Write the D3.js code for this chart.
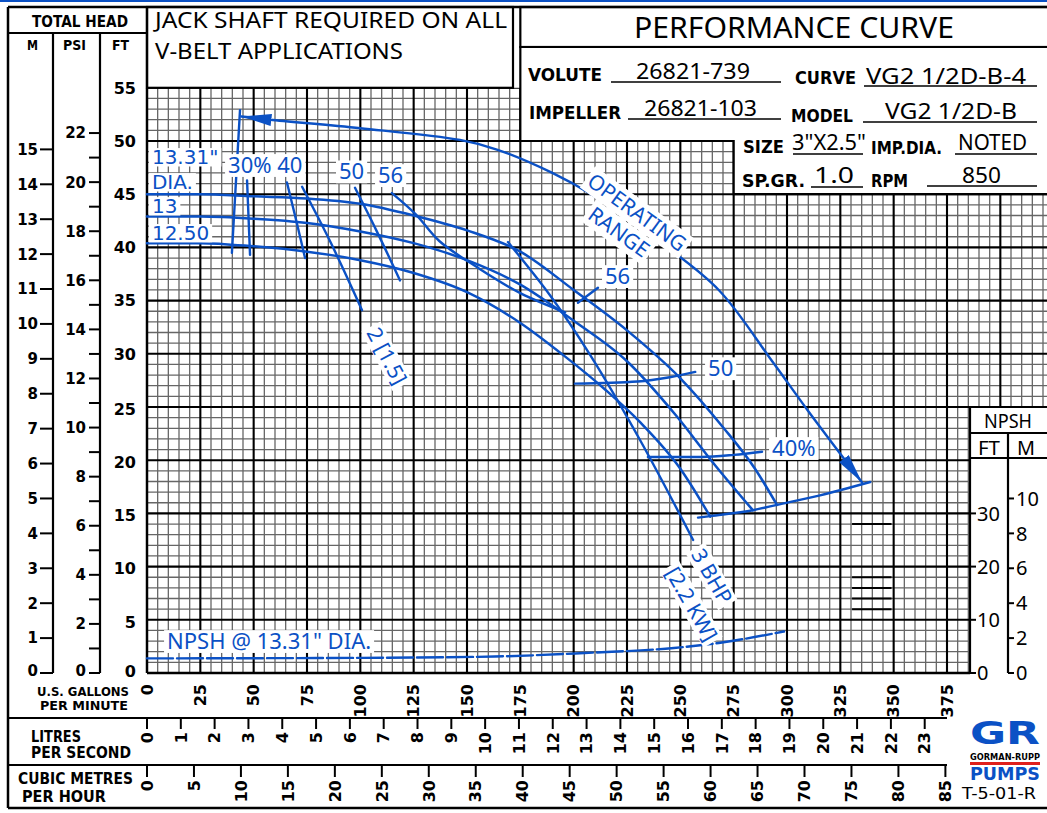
<!DOCTYPE html>
<html><head><meta charset="utf-8">
<script src="https://cdn.jsdelivr.net/npm/d3@7"></script>
<style>body{margin:0;background:#fff}svg{display:block}</style>
</head><body>
<svg id="c" width="1047" height="813"></svg>
<script>
// ---------------- DATA ----------------
const gpmTicks = d3.range(0, 376, 25);
const lpsTicks = d3.range(0, 24);
const cmhTicks = d3.range(0, 86, 5);
const ftTicks = d3.range(0, 56, 5);
const psiTicks = d3.range(0, 23);
const psiLabels = d3.range(0, 23, 2);
const mTicks = d3.range(0, 16);
const npshFtTicks = [0, 10, 20, 30];
const npshMTicks = [0, 2, 4, 6, 8, 10];

// head-capacity curves [gpm, ft]
const head1331 = [[0,45.0],[25,45.0],[50,44.8],[75,44.6],[100,44.1],[125,43.0],[150,41.6],[175,39.6],[200,36.0],[225,32.2],[250,27.7],[270,23.1],[285,19.2],[295.3,15.8]];
const head13   = [[0,42.9],[25,42.9],[50,42.7],[75,42.3],[100,41.5],[125,40.4],[150,38.8],[175,36.5],[200,33.1],[225,29.3],[248,24.2],[266,19.6],[284,15.3]];
const head1250 = [[0,40.4],[25,40.4],[50,40.1],[75,39.6],[100,38.8],[125,37.6],[150,35.8],[175,32.9],[195,29.9],[215,26.6],[231,23.6],[250,19.2],[264,14.7]];
// efficiency lines
const eff30  = [[46.9,46.3],[47.6,42.8],[48.3,39.3]];
const eff40L = [[65.6,46.1],[69.5,42.9],[74.1,39.0]];
const eff50L = [[97.5,45.6],[107.5,41.6],[118.6,36.9]];
const eff56L = [[114.8,45.1],[126,43.1],[137,40.6],[155,38.1],[175,35.7],[196,33.9]];
const eff56R = [[202,34.8],[211.4,36.2]];
const eff50R = [[200.6,27.2],[230,27.4],[245,27.8],[257,28.3]];
const eff40R = [[234.8,20.3],[260,20.3],[275,20.5],[288.3,20.8]];
// brake horsepower lines
const bhp2 = [[72.7,45.7],[86,40.5],[100.8,34.1]];
const bhp3 = [[169.2,40.5],[188.9,35.5],[207.7,29.9],[231.1,21.9],[256,12.5]];
// operating range
const opRange  = [[44.3,52.3],[57.7,52.0],[100,51.2],[146.7,50.1],[164,49.2],[190,47.0],[209,44.9],[240.5,40.5],[268,36.0],[293.4,29.2],[310,24.6],[335.2,17.9]];
const opLeft   = [[43.6,52.9],[41.7,46.2],[39.8,39.5]];
const opBottom = [[258.3,14.6],[264,14.75],[284,15.3],[295.3,15.8],[315.5,16.7],[339,17.95]];
// NPSH [gpm, ft NPSH]
const npsh = [[0,2.75],[100,2.85],[163,3.1],[205,3.76],[247,4.7],[268,5.65],[298.6,7.8]];
// heavier rules printed in grid [ft]
const darkRules = [14, 9, 8, 7, 6];

// ---------------- SCALES ----------------
const x  = d3.scaleLinear().domain([0, 375]).range([147, 947]);
const y  = d3.scaleLinear().domain([0, 55]).range([673, 87.8]);
const yPsi = d3.scaleLinear().domain([0, 55/2.3067]).range(y.range());
const yM   = d3.scaleLinear().domain([0, 55/3.2808]).range(y.range());
const yN   = d3.scaleLinear().domain([0, 110]).range(y.range());
const yNM  = d3.scaleLinear().domain([0, 110/3.2808]).range(y.range());
const xL = d3.scaleLinear().domain([0, 375/15.850]).range(x.range());
const xC = d3.scaleLinear().domain([0, 375/4.4029]).range(x.range());

const svg = d3.select('#c');
const BLUE = '#0b51c5';
const F  = "'Noto Sans','DejaVu Sans',sans-serif";
const FB = "'DejaVu Sans','Noto Sans',sans-serif";

function T(s, xx, yy, o = {}) {
  const t = svg.append('text').attr('x', xx).attr('y', yy).text(s)
    .attr('font-family', o.fam || F).attr('font-size', o.size || 16)
    .attr('font-weight', o.bold ? 'bold' : 'normal').attr('fill', o.fill || '#000')
    .attr('text-anchor', o.anchor || 'start');
  if (o.len) t.attr('textLength', o.len).attr('lengthAdjust', 'spacingAndGlyphs');
  if (o.rot !== undefined) t.attr('transform', `rotate(${o.rot},${xx},${yy})`);
  if (o.db) t.attr('dy', o.db);
  return t;
}
function Ln(x1, y1, x2, y2, w = 2.2, c = '#000') {
  svg.append('line').attr('x1', x1).attr('y1', y1).attr('x2', x2).attr('y2', y2)
    .attr('stroke', c).attr('stroke-width', w);
}

// top blue strip
svg.append('rect').attr('x', 0).attr('y', 0).attr('width', 1047).attr('height', 2).attr('fill', BLUE);

// ---------------- GRID ----------------
const gxEnd = x.invert(1047);
const grid = svg.append('g');
const vAll = d3.range(0, gxEnd, 5);
const hAll = d3.range(0, 56, 1);
vAll.filter(v => v % 25 !== 0).forEach(v => grid.append('line').attr('x1', x(v)).attr('x2', x(v)).attr('y1', y(55)).attr('y2', y(0)).attr('stroke', '#666').attr('stroke-width', 1.3));
hAll.filter(v => v % 5 !== 0).forEach(v => grid.append('line').attr('x1', x(0)).attr('x2', 1047).attr('y1', y(v)).attr('y2', y(v)).attr('stroke', '#666').attr('stroke-width', 1.3));
vAll.filter(v => v % 25 === 0).forEach(v => grid.append('line').attr('x1', x(v)).attr('x2', x(v)).attr('y1', y(55)).attr('y2', y(0)).attr('stroke', '#000').attr('stroke-width', 2.1));
hAll.filter(v => v % 5 === 0).forEach(v => grid.append('line').attr('x1', x(0)).attr('x2', 1047).attr('y1', y(v)).attr('y2', y(v)).attr('stroke', '#000').attr('stroke-width', 2.1));
darkRules.forEach(v => grid.append('line').attr('x1', x(330.5)).attr('x2', x(349)).attr('y1', y(v)).attr('y2', y(v)).attr('stroke', '#000').attr('stroke-width', 2));

// ---------------- BOXES ----------------
const box = (xx, yy, w, h, stroke = true) => svg.append('rect').attr('x', xx).attr('y', yy).attr('width', w).attr('height', h)
  .attr('fill', '#fff').attr('stroke', stroke ? '#000' : 'none').attr('stroke-width', 2.2);
box(513, 6, 8, y(55) - 6, false);
box(147, 7, 366, y(55) - 7);
box(x(175), 7, 1060 - x(175), 40);
svg.append('path').attr('d', `M${x(175)},47 L1060,47 L1060,${y(45)} L${x(275)},${y(45)} L${x(275)},${y(50)} L${x(175)},${y(50)} Z`)
  .attr('fill', '#fff').attr('stroke', '#000').attr('stroke-width', 2.2);
box(970, y(25), 90, y(0) - y(25) + 30, false);
Ln(970, y(25), 1047, y(25));
Ln(970, y(25), 970, y(0));
Ln(970, 433, 1047, 433);
Ln(970, 458, 1047, 458);
Ln(1008, 433, 1008, y(0));

// frame
Ln(8, 7, 1047, 7, 2.5);
Ln(8, 7, 8, 808, 2.5);
Ln(8, 808, 1047, 808, 2.5);
Ln(8, 33, 147, 33);
Ln(53, 33, 53, y(0));
Ln(100, 33, 100, y(0));
Ln(147, 7, 147, y(0), 2.4);
Ln(147, y(0), 970, y(0), 2.4);
Ln(8, 718, x(375), 718);
Ln(8, 765, x(375), 765);

// ---------------- CURVES ----------------
const cg = svg.append('g').attr('fill', 'none').attr('stroke', BLUE).attr('stroke-width', 2.4).attr('stroke-linecap', 'round');
const lineM = d3.line().x(d => x(d[0])).y(d => y(d[1])).curve(d3.curveMonotoneX);
const lineC = d3.line().x(d => x(d[0])).y(d => y(d[1])).curve(d3.curveCatmullRom);
const lineN = d3.line().x(d => x(d[0])).y(d => yN(d[1])).curve(d3.curveMonotoneX);

const defs = svg.append('defs');
defs.append('marker').attr('id', 'arr').attr('viewBox', '0 0 30 12').attr('refX', 30).attr('refY', 6)
  .attr('markerWidth', 30).attr('markerHeight', 12).attr('markerUnits', 'userSpaceOnUse').attr('orient', 'auto-start-reverse')
  .append('path').attr('d', 'M0,0 L30,6 L0,12 Z').attr('fill', BLUE);

[eff30, eff40L, eff50L, eff56L, bhp2, bhp3, opLeft].forEach(d => cg.append('path').attr('d', lineC(d)));
[eff56R, eff50R, eff40R, opBottom].forEach(d => cg.append('path').attr('d', lineM(d)));
[head1331, head13, head1250].forEach(d => cg.append('path').attr('d', lineM(d)).attr('stroke-width', 2.5));
cg.append('path').attr('d', lineC(opRange)).attr('marker-start', 'url(#arr)').attr('marker-end', 'url(#arr)');
cg.append('path').attr('d', lineN(npsh)).attr('stroke-dasharray', '26,4');

// ---------------- BLUE LABELS ----------------
// one text element per label, one tspan per line, white background rect per line
function tag(lines, px, py, rot, size, anchor, padY = 3, fam = F) {
  const g = svg.append('g').attr('transform', `translate(${px},${py}) rotate(${rot})`);
  const cap = size * 0.72, pad = 3;
  const t = g.append('text').attr('font-family', fam).attr('font-size', size).attr('fill', BLUE).attr('text-anchor', anchor);
  const spans = lines.map(l => t.append('tspan').attr('x', l.dx || 0).attr('y', l.dy || 0).text(l.t));
  spans.forEach((s, i) => {
    const l = lines[i], w = s.node().getComputedTextLength(), dx = l.dx || 0, dy = l.dy || 0;
    const x0 = anchor === 'middle' ? dx - w / 2 : dx;
    g.insert('rect', ':first-child').attr('x', x0 - pad).attr('y', dy - cap - padY)
      .attr('width', w + 2 * pad).attr('height', cap + 2 * padY + 1).attr('fill', '#fff');
  });
}
// impeller diameter labels (stacked just above their curves)
const diaLabels = [
  {t: '13.31"', g: 2.3, f: 47.84}, {t: 'DIA.', g: 2.3, f: 45.49},
  {t: '13', g: 2.3, f: 43.23}, {t: '12.50', g: 2.3, f: 40.7}
];
diaLabels.forEach(l => tag([{t: l.t}], x(l.g), y(l.f), 0, 20, 'start', 1.5, FB));
const flatLabels = [
  {t: '30% 40', g: 38, f: 47.0}, {t: '50', g: 90, f: 46.4}, {t: '56', g: 108.3, f: 46.05},
  {t: '56', g: 214.7, f: 36.56}, {t: '50', g: 263, f: 27.9}, {t: '40%', g: 293, f: 20.4},
  {t: 'NPSH @ 13.31" DIA.', g: 9.4, f: 2.26}
];
flatLabels.forEach(l => tag([{t: l.t}], x(l.g), y(l.f), 0, 22, 'start'));
tag([{t: '2 [1.5]', dy: 7.5}], x(112.5), y(29.8), 62, 21, 'middle');
tag([{t: '3 BHP', dy: 7.5}, {t: '[2.2 KW]', dx: 14, dy: 39}], x(264.8), y(9.1), 60, 21, 'middle');
tag([{t: 'OPERATING', dy: 7.5}, {t: 'RANGE', dx: -3, dy: 34}], x(229.7), y(43.3), 36, 21, 'middle', 5);

// ---------------- HEADER TEXT ----------------
T('TOTAL HEAD', 32, 27, {fam: FB, bold: true, size: 15, len: 96});
T('M', 27, 50, {fam: FB, bold: true, size: 14, len: 11});
T('PSI', 63, 50, {fam: FB, bold: true, size: 14, len: 23});
T('FT', 112, 50, {fam: FB, bold: true, size: 14, len: 17});
T('JACK SHAFT REQUIRED ON ALL', 155, 28, {size: 21, len: 352});
T('V-BELT APPLICATIONS', 155, 59, {size: 21, len: 248});
T('PERFORMANCE CURVE', 634, 38, {size: 29, len: 320});

const info = [
  ['VOLUTE', 528, 81, 74, true], ['26821-739', 636, 79, 114, false],
  ['CURVE', 795, 84, 61, true], ['VG2 1/2D-B-4', 866, 84, 160, false],
  ['IMPELLER', 529, 119, 92, true], ['26821-103', 644, 116, 113, false],
  ['MODEL', 791, 122, 62, true], ['VG2 1/2D-B', 885, 119, 132, false],
  ['SIZE', 743, 153, 41, true], ['3"X2.5"', 792, 150, 74, false],
  ['IMP.DIA.', 871, 154, 71, true], ['NOTED', 958, 150, 69, false],
  ['SP.GR.', 742, 187, 63, true], ['1.0', 814, 183, 40, false],
  ['RPM', 871, 187, 37, true], ['850', 962, 183, 39, false]
];
info.forEach(([s, xx, yy, len, b]) => T(s, xx, yy, b ? {fam: FB, bold: true, size: 18, len} : {size: 22, len}));
[[611, 781, 82], [864, 1037, 86], [628, 781, 119], [863, 1037, 122], [793, 863, 154], [955, 1037, 154], [811, 863, 187], [927, 1037, 186]]
  .forEach(([a, b, yy]) => Ln(a, yy, b, yy, 1.3));

// ---------------- LEFT AXES ----------------
mTicks.forEach(v => { Ln(40, yM(v), 53, yM(v), 2); T(String(v), 38, yM(v) - (v === 0 ? 2 : 0), {fam: FB, bold: true, size: 15, anchor: 'end', db: '0.36em'}); });
psiTicks.forEach(v => Ln(89, yPsi(v), 100, yPsi(v), 2));
psiLabels.forEach(v => T(String(v), 86, yPsi(v) - (v === 0 ? 2 : 0), {fam: FB, bold: true, size: 15, anchor: 'end', db: '0.36em'}));
ftTicks.forEach(v => T(String(v), 136, y(v) + (v > 0 && v < 30 ? 2 : 0) - (v === 0 ? 2 : 0), {fam: FB, bold: true, size: 16, anchor: 'end', db: '0.36em'}));

// ---------------- NPSH AXES ----------------
T('NPSH', 1008, 428, {size: 19, anchor: 'middle', len: 48});
T('FT', 978, 455, {size: 19, len: 22});
T('M', 1017, 455, {size: 19, len: 18});
npshFtTicks.forEach(v => { Ln(970, yN(v), 976, yN(v), 2); T(String(v), 977, yN(v), {size: 20, db: '0.36em'}); });
npshMTicks.forEach(v => { Ln(1008, yNM(v), 1014, yNM(v), 2); T(String(v), 1016, yNM(v), {size: 20, db: '0.36em'}); });

// ---------------- BOTTOM AXES ----------------
gpmTicks.forEach(v => T(String(v), x(v), 684, {fam: FB, bold: true, size: 16, anchor: 'end', rot: -90, db: '0.36em'}));
lpsTicks.forEach(v => { Ln(xL(v), 718, xL(v), 729, 2); T(String(v), xL(v), 732, {fam: FB, bold: true, size: 16, anchor: 'end', rot: -90, db: '0.36em'}); });
cmhTicks.forEach(v => { Ln(xC(v), 765, xC(v), 777, 2); T(String(v), xC(v), 780, {fam: FB, bold: true, size: 16, anchor: 'end', rot: -90, db: '0.36em'}); });
T('U.S. GALLONS', 37, 696, {fam: FB, bold: true, size: 13, len: 92});
T('PER MINUTE', 40, 710, {fam: FB, bold: true, size: 13, len: 88});
T('LITRES', 31, 742, {fam: FB, bold: true, size: 15, len: 50});
T('PER SECOND', 31, 758, {fam: FB, bold: true, size: 15, len: 100});
T('CUBIC METRES', 18, 784, {fam: FB, bold: true, size: 15, len: 115});
T('PER HOUR', 22, 802, {fam: FB, bold: true, size: 15, len: 84});

// ---------------- LOGO ----------------
T('GR', 970, 744, {fam: FB, bold: true, size: 32, len: 70, fill: BLUE});
T('GORMAN-RUPP', 970, 760, {fam: FB, bold: true, size: 9, len: 70});
svg.append('rect').attr('x', 970).attr('y', 762).attr('width', 70).attr('height', 3).attr('fill', '#e0201c');
T('PUMPS', 970, 780, {fam: FB, bold: true, size: 17, len: 70, fill: BLUE});
T('T-5-01-R', 962, 799, {fam: FB, size: 15, len: 74});
</script>
</body></html>
